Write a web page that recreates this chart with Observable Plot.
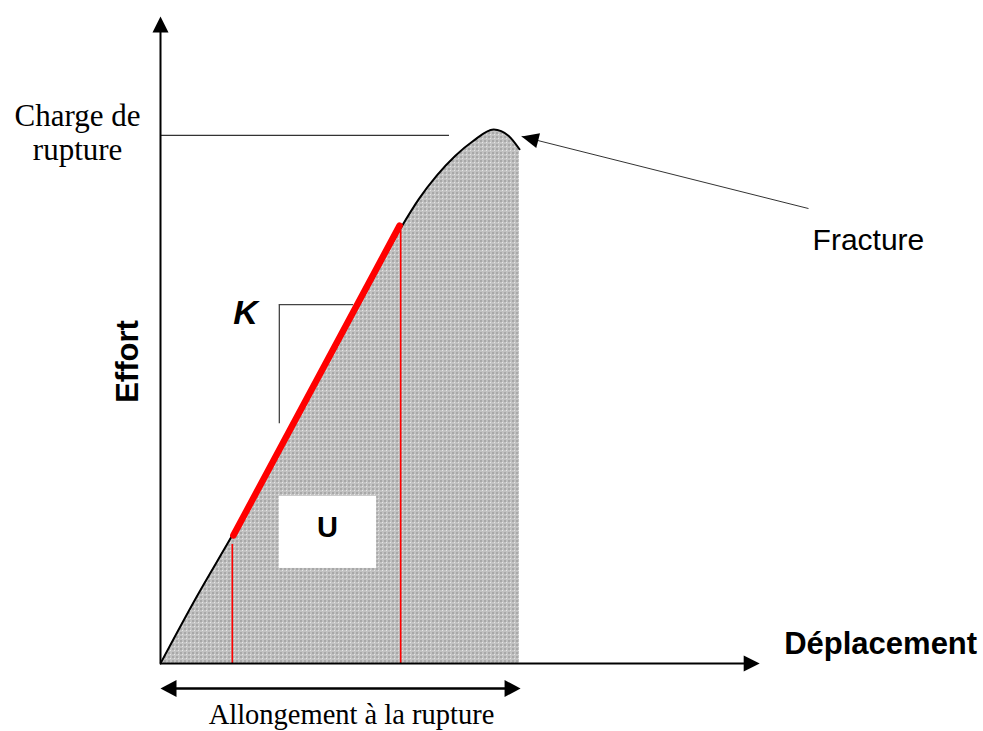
<!DOCTYPE html>
<html>
<head>
<meta charset="utf-8">
<script src="https://cdn.jsdelivr.net/npm/d3@7"></script>
<script src="https://cdn.jsdelivr.net/npm/@observablehq/plot@0.6"></script>
<style>
  html, body { margin: 0; padding: 0; background: #ffffff; }
  #chart { width: 983px; height: 731px; }
</style>
</head>
<body>
<div id="chart"></div>
<script>
// ---- Data (displacement in mm, effort in % of breaking load) ----
const displacement = [0, 1.0, 2.0, 3.34, 4.74, 5.85, 6.69, 7.2, 7.7, 8.2, 8.7, 9.28, 9.7, 10.0];
const effort       = [0, 12.4, 24.0, 40.1, 57.3, 71.2, 81.5, 87.0, 91.4, 95.0, 97.8, 100, 98.8, 96.3];
const chargeRupture = 98.9;            // level of the "Charge de rupture" line
const chargeLineEnd = 8.05;            // displacement where that line stops
const stiffnessSegment = [[2.03, 24.0], [6.66, 82.0]]; // red K segment (displacement, effort)
const stiffnessBounds = [[2.0, 22.3], [6.69, 81.1]];   // red vertical markers (x, top)
const slopeTriangle = {x: 3.31, xEnd: 5.38, top: 67.2, bottom: 44.9};
const energyBox = {x1: 3.31, x2: 6.02, y1: 17.8, y2: 31.3};
const fractureArrow = {from: [18.05, 85.2], to: [10.06, 98.7]};
const axisEnds = {x: 16.69, y: 121.16, xLine: 16.3, yLine: 118.5};
const allongement = {from: 0, to: 10.03, level: -4.68};

const curve = displacement.map((d, i) => ({d, f: effort[i]}));

// scale definitions
const xScale = {domain: [0, 10], range: [160, 519]};
const yScale = {domain: [0, 100], range: [663, 129]};
const sx = d3.scaleLinear(xScale.domain, xScale.range);
const sy = d3.scaleLinear(yScale.domain, yScale.range);

// filled arrowhead symbol with the tip at the origin, pointing up
const head = (ratio) => ({
  draw(context, size) {
    const L = Math.sqrt(size / Math.PI);
    const w = L * ratio;
    context.moveTo(0, 0);
    context.lineTo(-w, L);
    context.lineTo(w, L);
    context.closePath();
  }
});

const fdx = sx(fractureArrow.to[0]) - sx(fractureArrow.from[0]);
const fdy = sy(fractureArrow.to[1]) - sy(fractureArrow.from[1]);
const fractureAngle = Math.atan2(fdx, -fdy) * 180 / Math.PI;

const serif = "'Liberation Serif', 'Times New Roman', serif";
const sans = "'Liberation Sans', Arial, sans-serif";

const svg = Plot.plot({
  width: 983,
  height: 731,
  margin: 0,
  x: {...xScale, axis: null},
  y: {...yScale, axis: null},
  style: {background: "white", fontFamily: sans},
  marks: [
    // energy area under the curve
    Plot.areaY(curve, {x: "d", y: "f", curve: "monotone-x", fill: "url(#grain)"}),
    // the force-displacement curve
    Plot.line(curve, {x: "d", y: "f", curve: "monotone-x", stroke: "black", strokeWidth: 2}),
    // breaking load line
    Plot.ruleY([chargeRupture], {x1: 0, x2: chargeLineEnd, stroke: "#333", strokeWidth: 1.4}),
    // stiffness red verticals
    Plot.ruleX(stiffnessBounds, {x: d => d[0], y1: 0, y2: d => d[1], stroke: "#ff0000", strokeWidth: 1.6}),
    // stiffness K red thick segment
    Plot.line(stiffnessSegment, {x: d => d[0], y: d => d[1], stroke: "#ff0000", strokeWidth: 6.5}),
    // slope triangle
    Plot.ruleY([slopeTriangle.top], {x1: slopeTriangle.x, x2: slopeTriangle.xEnd, stroke: "#444", strokeWidth: 1.3}),
    Plot.ruleX([slopeTriangle.x], {y1: slopeTriangle.bottom, y2: slopeTriangle.top, stroke: "#444", strokeWidth: 1.3}),
    // energy label box
    Plot.rect([energyBox], {x1: "x1", x2: "x2", y1: "y1", y2: "y2", fill: "white"}),
    // axes
    Plot.ruleX([0], {y1: 0, y2: axisEnds.yLine, stroke: "black", strokeWidth: 2}),
    Plot.ruleY([0], {x1: 0, x2: axisEnds.xLine, stroke: "black", strokeWidth: 2}),
    Plot.dot([[0, axisEnds.y]], {x: d => d[0], y: d => d[1], symbol: head(0.5), r: 16, fill: "black", stroke: "none", rotate: 0}),
    Plot.dot([[axisEnds.x, 0]], {x: d => d[0], y: d => d[1], symbol: head(0.5), r: 16, fill: "black", stroke: "none", rotate: 90}),
    // elongation double arrow
    Plot.ruleY([allongement.level], {x1: allongement.from + 0.3, x2: allongement.to - 0.3, stroke: "black", strokeWidth: 2.5}),
    Plot.dot([[allongement.from, allongement.level]], {x: d => d[0], y: d => d[1], symbol: head(0.53), r: 16, fill: "black", stroke: "none", rotate: -90}),
    Plot.dot([[allongement.to, allongement.level]], {x: d => d[0], y: d => d[1], symbol: head(0.53), r: 16, fill: "black", stroke: "none", rotate: 90}),
    // fracture arrow
    Plot.link([fractureArrow], {x1: d => d.from[0], y1: d => d.from[1], x2: d => d.to[0], y2: d => d.to[1], stroke: "#333", strokeWidth: 1}),
    Plot.dot([fractureArrow.to], {x: d => d[0], y: d => d[1], symbol: head(0.45), r: 17, fill: "black", stroke: "none", rotate: fractureAngle}),
    // labels
    Plot.text(["Charge de\nrupture"], {x: -2.31, y: 94.2, text: d => d, lineAnchor: "bottom", lineHeight: 1.1, fontFamily: serif, fontSize: 31, fill: "black"}),
    Plot.text(["Fracture"], {x: 19.72, y: 77.5, text: d => d, lineAnchor: "bottom", fontFamily: sans, fontSize: 30, fill: "black"}),
    Plot.text(["Déplacement"], {x: 20.06, y: 1.69, text: d => d, lineAnchor: "bottom", fontFamily: sans, fontWeight: "bold", fontSize: 31, fill: "black"}),
    Plot.text(["Effort"], {x: -0.64, y: 56.55, text: d => d, lineAnchor: "bottom", rotate: -90, fontFamily: sans, fontWeight: "bold", fontSize: 31, fill: "black"}),
    Plot.text(["Allongement à la rupture"], {x: 5.32, y: -11.4, text: d => d, lineAnchor: "bottom", fontFamily: serif, fontSize: 28.5, fill: "black"}),
    Plot.text(["K"], {x: 2.37, y: 63.5, text: d => d, lineAnchor: "bottom", fontFamily: sans, fontWeight: "bold", fontStyle: "italic", fontSize: 34, fill: "black"}),
    Plot.text(["U"], {x: 4.65, y: 23.6, text: d => d, lineAnchor: "bottom", fontFamily: sans, fontWeight: "bold", fontSize: 29, fill: "black"})
  ]
});

// halftone-like grey fill pattern
const ns = "http://www.w3.org/2000/svg";
const defs = document.createElementNS(ns, "defs");
defs.innerHTML = `<pattern id="grain" width="4" height="4" patternUnits="userSpaceOnUse">
  <rect width="4" height="4" fill="#c2c2c2"/>
  <rect width="2" height="2" fill="#a8a8a8"/>
  <rect x="2" y="2" width="1" height="1" fill="#e6e6e6"/>
</pattern>`;
svg.insertBefore(defs, svg.firstChild);

document.getElementById("chart").appendChild(svg);
</script>
</body>
</html>
